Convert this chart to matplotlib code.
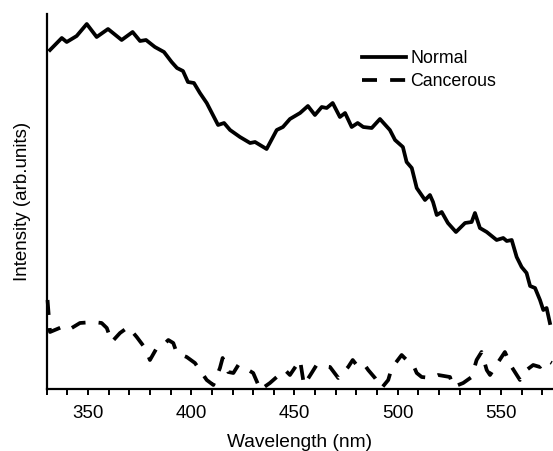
import matplotlib
matplotlib.use("Agg")
import matplotlib.pyplot as plt
from matplotlib.ticker import MultipleLocator

plt.rcParams['font.family'] = ['Liberation Sans', 'DejaVu Sans']

# Normal tissue spectrum
normal_wl = [331.6, 337.3, 339.7, 344.5, 349.4, 354.2, 359.7, 366.3, 371.6, 375.2,
             378.1, 382.4, 386.8, 390.5, 393.1, 396.0, 398.4, 401.3, 404.2, 407.5,
             410.5, 413.0, 415.9, 418.8, 423.6, 428.5, 430.9, 436.5, 441.4, 444.4,
             447.8, 452.7, 456.5, 459.9, 463.2, 465.6, 468.5, 472.0, 474.5, 477.7,
             480.6, 483.3, 487.4, 491.4, 496.2, 498.7, 502.5, 504.3, 506.8, 509.2,
             513.2, 515.6, 517.1, 518.9, 521.3, 524.3, 528.2, 532.6, 535.8, 537.4,
             539.8, 543.1, 547.9, 551.1, 552.8, 555.2, 557.6, 560.0, 562.4, 564.1,
             566.5, 568.9, 570.5, 572.1, 573.7]
normal_int = [339, 351, 347, 353, 365, 352, 360, 349, 357, 348,
              349, 342, 337, 327, 321, 318, 307, 306, 296, 286,
              274, 264, 266, 259, 252, 246, 247, 240, 259, 262,
              270, 276, 283, 274, 282, 281, 286, 272, 276, 262,
              266, 262, 261, 270, 259, 249, 242, 227, 221, 201,
              189, 194, 187, 174, 177, 166, 157, 166, 167, 176,
              161, 157, 149, 151, 148, 149, 132, 122, 116, 103,
              101, 89, 79, 81, 66]

# Cancerous tissue spectrum
cancer_wl = [330.4, 331.6, 339.7, 342.1, 346.1, 352.6, 356.6, 359.1, 361.5, 365.5,
             369.5, 373.6, 377.6, 380.0, 383.3, 386.5, 388.9, 391.3, 393.0, 397.8,
             401.8, 407.5, 410.7, 413.9, 415.2, 417.9, 420.4, 422.8, 427.6, 430.0,
             432.5, 433.3, 438.1, 441.4, 445.4, 447.8, 452.7, 454.6, 458.3, 460.7,
             467.2, 471.2, 476.0, 478.2, 480.1, 483.3, 485.7, 489.0, 492.2, 495.4,
             497.1, 501.9, 504.3, 507.5, 509.2, 511.6, 516.4, 519.6, 525.3, 526.9,
             531.7, 535.8, 538.2, 540.6, 543.1, 544.7, 548.7, 551.9, 555.2, 559.2,
             562.4, 565.6, 568.9, 572.1, 574.6]
cancer_int = [89, 57, 64, 61, 66, 67, 66, 61, 47, 56,
              62, 52, 41, 29, 41, 44, 49, 46, 36, 32,
              26, 9, 4, 21, 31, 17, 16, 24, 19, 16,
              4, -1, 6, 12, 19, 14, 29, 4, 16, 24,
              22, 11, 22, 29, 24, 26, 19, 11, 1, 9,
              21, 34, 29, 24, 16, 12, 11, 14, 12, 2,
              6, 12, 29, 37, 19, 14, 27, 37, 22, 9,
              19, 24, 22, 29, 26]

xticks = [350, 400, 450, 500, 550]

fig = plt.figure(figsize=(5.53, 4.51), dpi=100)
ax = fig.add_axes([46.7 / 553, 62 / 451, (553 - 46.7) / 553, 375 / 451])

ax.plot(normal_wl, normal_int, color='black', lw=2.7, label='Normal')
ax.plot(cancer_wl, cancer_int, color='black', lw=2.7, linestyle=(0, (4.0, 3.5)),
        dash_capstyle='butt', label='Cancerous', clip_on=False)

ax.set_xlim(330, 575.2)
ax.set_ylim(0, 375)
ax.set_xticks(xticks)
ax.xaxis.set_minor_locator(MultipleLocator(10))
ax.set_yticks([])

for side in ['top', 'right']:
    ax.spines[side].set_visible(False)
for side in ['left', 'bottom']:
    ax.spines[side].set_linewidth(1.6)

ax.tick_params(axis='x', which='both', direction='out', length=4.5, width=1.4,
               labelsize=13.5, pad=7)

ax.set_xlabel('Wavelength (nm)', fontsize=13.8, labelpad=9)
ax.set_ylabel('Intensity (arb.units)', fontsize=13.5, labelpad=11)

ax.legend(loc='upper left', bbox_to_anchor=(362 / 553, 1 - 50 / 451),
          bbox_transform=fig.transFigure, frameon=False, fontsize=12.8,
          handlelength=2.47, handletextpad=0.25, labelspacing=0.36,
          borderpad=0, borderaxespad=0)

fig.savefig('out.png', dpi=100)
